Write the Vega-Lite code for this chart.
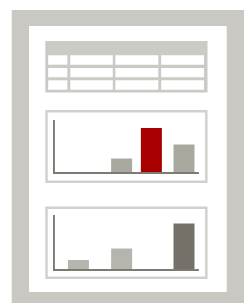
{
  "$schema": "https://vega.github.io/schema/vega-lite/v6.json",
  "width": 249,
  "height": 303,
  "padding": 0,
  "autosize": "none",
  "background": "#ffffff",
  "config": {"view": {"stroke": null}},
  "datasets": {
    "shapes": [
      {"part": "frame", "x0": 7, "x1": 249, "y0": 10, "y1": 303},
      {"part": "page", "x0": 25, "x1": 231, "y0": 26, "y1": 292},
      {"part": "table", "x0": 42, "x1": 211, "y0": 41, "y1": 92.5},
      {"part": "cell", "x0": 45, "x1": 65, "y0": 55.3, "y1": 64.7},
      {"part": "cell", "x0": 68, "x1": 112.3, "y0": 55.3, "y1": 64.7},
      {"part": "cell", "x0": 115, "x1": 159.7, "y0": 55.3, "y1": 64.7},
      {"part": "cell", "x0": 162.7, "x1": 207.3, "y0": 55.3, "y1": 64.7},
      {"part": "cell", "x0": 45, "x1": 65, "y0": 68, "y1": 77.3},
      {"part": "cell", "x0": 68, "x1": 112.3, "y0": 68, "y1": 77.3},
      {"part": "cell", "x0": 115, "x1": 159.7, "y0": 68, "y1": 77.3},
      {"part": "cell", "x0": 162.7, "x1": 207.3, "y0": 68, "y1": 77.3},
      {"part": "cell", "x0": 45, "x1": 65, "y0": 80.3, "y1": 89.7},
      {"part": "cell", "x0": 68, "x1": 112.3, "y0": 80.3, "y1": 89.7},
      {"part": "cell", "x0": 115, "x1": 159.7, "y0": 80.3, "y1": 89.7},
      {"part": "cell", "x0": 162.7, "x1": 207.3, "y0": 80.3, "y1": 89.7},
      {"part": "box", "x0": 42, "x1": 211, "y0": 110, "y1": 183},
      {"part": "inner", "x0": 44.5, "x1": 208.5, "y0": 112.5, "y1": 180.5},
      {"part": "axis", "x0": 50, "x1": 52, "y0": 120, "y1": 174},
      {"part": "axis", "x0": 50, "x1": 202, "y0": 172, "y1": 174},
      {"part": "box", "x0": 42, "x1": 211, "y0": 206.5, "y1": 279},
      {"part": "inner", "x0": 44.5, "x1": 208.5, "y0": 209, "y1": 276.5},
      {"part": "axis", "x0": 50, "x1": 52, "y0": 215, "y1": 271},
      {"part": "axis", "x0": 50, "x1": 202, "y0": 269, "y1": 271}
    ],
    "bars1": [
      {"slot": 121.5, "value": 13.5, "tone": "gray"},
      {"slot": 152.5, "value": 44, "tone": "red"},
      {"slot": 186.5, "value": 27.5, "tone": "gray"}
    ],
    "bars2": [
      {"slot": 76.5, "value": 9, "tone": "pale"},
      {"slot": 121.5, "value": 20.5, "tone": "pale"},
      {"slot": 186.5, "value": 45.5, "tone": "dark"}
    ]
  },
  "resolve": {"scale": {"y": "independent", "color": "independent"}},
  "layer": [
    {
      "data": {"name": "shapes"},
      "mark": {"type": "rect"},
      "encoding": {
        "x": {"field": "x0", "type": "quantitative", "scale": {"domain": [0, 249], "nice": false, "zero": false}, "axis": null},
        "x2": {"field": "x1"},
        "y": {"field": "y0", "type": "quantitative", "scale": {"domain": [0, 303], "nice": false, "zero": false, "reverse": true}, "axis": null},
        "y2": {"field": "y1"},
        "color": {
          "field": "part", "type": "nominal", "legend": null,
          "scale": {
            "domain": ["frame", "page", "table", "cell", "box", "inner", "axis"],
            "range": ["#c9c8c2", "#ffffff", "#cbcac4", "#ffffff", "#d1d0cb", "#ffffff", "#7b7b73"]
          }
        }
      }
    },
    {
      "data": {"name": "bars1"},
      "mark": {"type": "bar", "width": 21},
      "encoding": {
        "x": {"field": "slot", "type": "quantitative", "scale": {"domain": [0, 249], "nice": false, "zero": false}, "axis": null},
        "y": {"field": "value", "type": "quantitative", "scale": {"domain": [-131, 172], "nice": false, "zero": false}, "axis": null},
        "y2": {"datum": 0},
        "color": {
          "field": "tone", "type": "nominal", "legend": null,
          "scale": {"domain": ["gray", "red"], "range": ["#a9a9a0", "#a80000"]}
        }
      }
    },
    {
      "data": {"name": "bars2"},
      "mark": {"type": "bar", "width": 21},
      "encoding": {
        "x": {"field": "slot", "type": "quantitative", "scale": {"domain": [0, 249], "nice": false, "zero": false}, "axis": null},
        "y": {"field": "value", "type": "quantitative", "scale": {"domain": [-34, 269], "nice": false, "zero": false}, "axis": null},
        "y2": {"datum": 0},
        "color": {
          "field": "tone", "type": "nominal", "legend": null,
          "scale": {"domain": ["pale", "dark"], "range": ["#b6b5ad", "#757169"]}
        }
      }
    }
  ]
}
